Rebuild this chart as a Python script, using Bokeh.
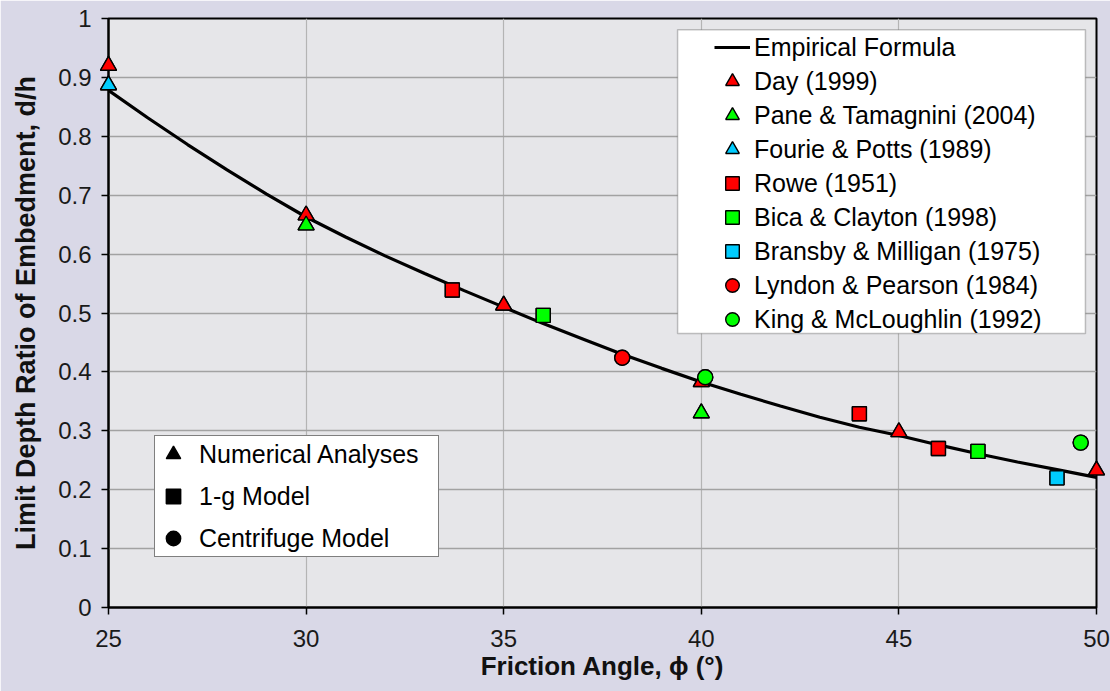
from bokeh.plotting import figure
from bokeh.models import (Range1d, FixedTicker, CustomJSTickFormatter, Legend,
                          LegendItem, BoxAnnotation)
from bokeh.embed import file_html
from bokeh.resources import INLINE

# ---------------- data ----------------
curve_phi = [25, 26, 27, 28, 29, 30, 31, 32, 33, 34, 35, 36, 37, 38, 39, 40,
             41, 42, 43, 44, 45, 46, 47, 48, 49, 50]
curve_dh = [0.878, 0.831, 0.786, 0.743, 0.702, 0.663, 0.629, 0.597, 0.567,
            0.538, 0.510, 0.482, 0.456, 0.430, 0.406, 0.383, 0.362, 0.342,
            0.323, 0.306, 0.292, 0.276, 0.261, 0.247, 0.234, 0.221]

day_phi = [25, 30, 35, 40, 45, 50]
day_dh = [0.920, 0.666, 0.513, 0.383, 0.298, 0.233]
pane_phi = [30, 40]
pane_dh = [0.649, 0.330]
fourie_phi = [25]
fourie_dh = [0.887]
rowe_phi = [33.7, 44.0, 46.0]
rowe_dh = [0.539, 0.329, 0.270]
bica_phi = [36.0, 47.0]
bica_dh = [0.496, 0.265]
bransby_phi = [49.0]
bransby_dh = [0.220]
lyndon_phi = [38.0]
lyndon_dh = [0.424]
king_phi = [40.1, 49.6]
king_dh = [0.391, 0.280]

series_names = ["Day (1999)", "Pane & Tamagnini (2004)", "Fourie & Potts (1989)",
                "Rowe (1951)", "Bica & Clayton (1998)", "Bransby & Milligan (1975)",
                "Lyndon & Pearson (1984)", "King & McLoughlin (1992)"]
type_names = ["Numerical Analyses", "1-g Model", "Centrifuge Model"]

X_TICKS = [25, 30, 35, 40, 45, 50]
Y_TICKS = [0, 0.1, 0.2, 0.3, 0.4, 0.5, 0.6, 0.7, 0.8, 0.9, 1.0]

# legend frame (in axis units)
LEG_LEFT, LEG_RIGHT, LEG_BOTTOM, LEG_TOP = 39.40, 49.72, 0.465, 0.981

RED, GREEN, CYAN = "#ff0000", "#00ff00", "#00ccff"
FONT = "Liberation Sans"

p = figure(width=1110, height=691, x_range=Range1d(25, 50), y_range=Range1d(0, 1),
           output_backend="svg", toolbar_location=None,
           min_border_left=108, min_border_right=14, min_border_top=18,
           min_border_bottom=84,
           background_fill_color="#e6e6e9", border_fill_color="#d9d8e7",
           outline_line_color="black", outline_line_width=2)

# axes
p.xaxis.ticker = FixedTicker(ticks=X_TICKS)
p.yaxis.ticker = FixedTicker(ticks=Y_TICKS)
p.yaxis.formatter = CustomJSTickFormatter(code="return String(Math.round(tick*10)/10);")
for ax in (p.xaxis[0], p.yaxis[0]):
    ax.axis_line_color = "black"
    ax.axis_line_width = 2
    ax.major_tick_line_color = "black"
    ax.major_tick_line_width = 1.5
    ax.major_tick_out = 7
    ax.major_tick_in = 0
    ax.minor_tick_line_color = None
    ax.major_label_text_font = FONT
    ax.major_label_text_font_size = "24px"
    ax.major_label_text_color = "#1a1a1a"
    ax.axis_label_text_font = FONT
    ax.axis_label_text_font_style = "bold"
    ax.axis_label_text_color = "#111111"

p.xaxis.axis_label = "Friction Angle, \u03d5 (\u00b0)"
p.xaxis.axis_label_text_font_size = "26px"
p.xaxis.major_label_standoff = 15
p.xaxis.axis_label_standoff = 1
p.yaxis.axis_label = "Limit Depth Ratio of Embedment, d/h"
p.yaxis.axis_label_text_font_size = "27px"
p.yaxis.major_label_standoff = 10
p.yaxis.axis_label_standoff = 14

p.xgrid.ticker = FixedTicker(ticks=X_TICKS)
p.ygrid.ticker = FixedTicker(ticks=Y_TICKS)
p.xgrid.grid_line_color = "#b4b4b4"
p.xgrid.grid_line_width = 1.2
p.ygrid.grid_line_color = "#a2a2a2"
p.ygrid.grid_line_width = 1.6

# curve
r_curve = p.line(curve_phi, curve_dh, line_color="black", line_width=3.2)

TRI, SQ, CIR = 16, 14, 15

# type symbols (black, lying exactly underneath the coloured markers)
num_phi = day_phi + pane_phi + fourie_phi
num_dh = day_dh + pane_dh + fourie_dh
oneg_phi = rowe_phi + bica_phi + bransby_phi
oneg_dh = rowe_dh + bica_dh + bransby_dh
cent_phi = lyndon_phi + king_phi
cent_dh = lyndon_dh + king_dh

def pts(xs, ys, marker, color, size):
    return p.scatter(xs, ys, marker=marker, size=size, fill_color=color,
                     line_color="black", line_width=1.4, level="overlay")

r_t1 = pts(num_phi, num_dh, "triangle", "black", TRI)
r_t2 = pts(oneg_phi, oneg_dh, "square", "black", SQ)
r_t3 = pts(cent_phi, cent_dh, "circle", "black", CIR)

# data series
r_day = pts(day_phi, day_dh, "triangle", RED, TRI)
r_pane = pts(pane_phi, pane_dh, "triangle", GREEN, TRI)
r_fourie = pts(fourie_phi, fourie_dh, "triangle", CYAN, TRI)
r_rowe = pts(rowe_phi, rowe_dh, "square", RED, SQ)
r_bica = pts(bica_phi, bica_dh, "square", GREEN, SQ)
r_bransby = pts(bransby_phi, bransby_dh, "square", CYAN, SQ)
r_lyndon = pts(lyndon_phi, lyndon_dh, "circle", RED, CIR)
r_king = pts(king_phi, king_dh, "circle", GREEN, CIR)

# legend frame
box = BoxAnnotation(left=LEG_LEFT, right=LEG_RIGHT, bottom=LEG_BOTTOM, top=LEG_TOP,
                    fill_color="white", fill_alpha=1.0, line_color="#3c3c3c",
                    line_width=1.5, level="annotation")
p.add_layout(box)

main_items = [LegendItem(label="Empirical Formula", renderers=[r_curve])]
for name, r in zip(series_names, [r_day, r_pane, r_fourie, r_rowe, r_bica,
                                   r_bransby, r_lyndon, r_king]):
    main_items.append(LegendItem(label=name, renderers=[r]))

leg1 = Legend(items=main_items, location=(606, 271), orientation="vertical",
              glyph_width=36, glyph_height=34, spacing=0, padding=0, margin=0,
              label_standoff=4, label_text_font=FONT, label_text_font_size="25px",
              label_text_color="black", background_fill_alpha=0,
              border_line_alpha=0)
p.add_layout(leg1)

type_items = [LegendItem(label=n, renderers=[r]) for n, r in
              zip(type_names, [r_t1, r_t2, r_t3])]
leg2 = Legend(items=type_items, location=(46, 50), orientation="vertical",
              glyph_width=36, glyph_height=36, spacing=6, padding=0, margin=0,
              label_standoff=8, label_width=239, label_text_font=FONT,
              label_text_font_size="25px", label_text_color="black",
              background_fill_color="white", background_fill_alpha=1.0,
              border_line_color="black", border_line_width=1.5)
p.add_layout(leg2)

open("out.html", "w").write(file_html(p, INLINE))
